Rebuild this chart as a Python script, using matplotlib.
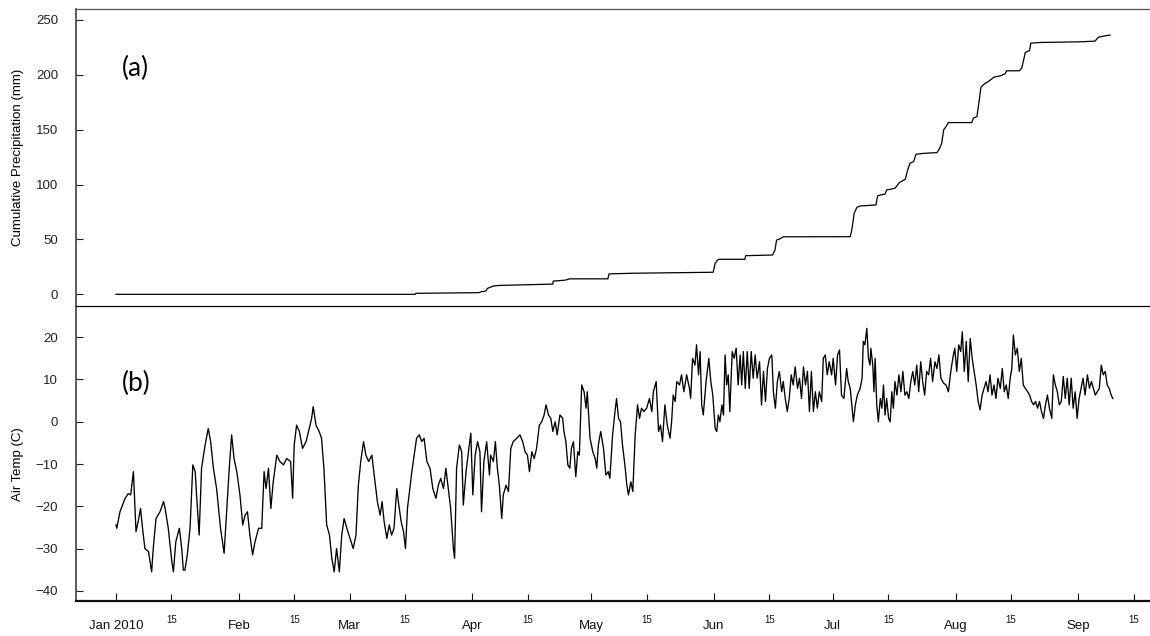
import numpy as np
import matplotlib
matplotlib.use('Agg')
import matplotlib.pyplot as plt

plt.rcParams['font.family'] = ['Liberation Sans', 'DejaVu Sans']

# ---------------- data (days since 2010-01-01) ----------------
precip_day = [0, 75.5, 75.7, 91.6, 92.3, 93.4, 93.8, 94.6, 95.1, 96.8, 103.6, 110.3, 110.4,
              113.4, 114.6, 124.2, 124.5, 130.6, 150.8, 151.3, 152.1, 158.8, 159.0, 165.8,
              166.4, 166.8, 167.7, 168.5, 185.4, 185.8, 186.4, 187.1, 187.9, 191.9, 192.3,
              193.0, 194.2, 194.6, 195.5, 196.7, 197.8, 199.3, 199.9, 200.5, 201.4, 202.0,
              204.1, 207.3, 208.0, 208.5, 209.0, 209.5, 210.2, 216.1, 216.5, 217.4, 218.0,
              218.4, 219.5, 220.3, 221.7, 223.3, 224.5, 224.9, 228.1, 228.7, 229.3, 229.6,
              230.7, 231.0, 233.4, 243.5, 247.2, 248.1, 249.8, 251.0]
precip_mm = [0, 0, 0.9, 1.5, 2.4, 3.0, 5.4, 6.5, 7.5, 8.1, 8.7, 9.3, 12.0,
             12.9, 14.1, 14.1, 18.6, 19.2, 20.1, 28.3, 31.9, 31.9, 35.2, 35.8,
             40.3, 49.4, 50.6, 52.4, 52.5, 58.6, 73.8, 79.3, 80.5, 81.4, 89.6,
             90.5, 91.4, 95.1, 95.7, 96.6, 101.8, 104.8, 113.3, 119.4, 120.9, 127.6,
             128.5, 129.1, 133.1, 137.6, 149.8, 152.3, 156.5, 156.5, 160.5, 162.0, 177.2,
             188.8, 192.4, 193.9, 197.9, 199.1, 200.9, 203.7, 203.7, 206.1, 215.2, 220.4,
             222.2, 228.9, 229.5, 230.1, 230.7, 234.3, 235.6, 236.2]

temp_day = [
    0.0, 0.2, 1.0, 2.3, 3.1, 3.7, 4.4, 5.05, 5.6, 6.2, 6.7, 7.3, 8.2, 9.0, 9.4, 10.1, 11.1, 12.0,
    12.4, 13.2, 14.1, 14.5, 15.1, 16.0, 16.6, 17.0, 17.4, 18.0, 18.7, 19.4, 20.0, 20.4, 21.0,
    21.6, 22.5, 23.3, 23.9, 24.6, 25.4, 26.4, 27.3, 28.0, 28.6, 29.2, 29.8, 30.5, 31.3, 32.0,
    32.6, 33.2, 33.8, 34.5, 35.1, 36.0, 36.8, 37.4, 37.9, 38.5, 39.1, 39.7, 40.6, 41.4, 42.3,
    43.1, 44.1, 44.6, 45.0, 45.6, 46.3, 47.1, 48.0, 48.8, 49.4, 49.8, 50.5, 51.3, 51.9, 52.5,
    53.2, 53.9, 54.5, 55.1, 55.7, 56.4, 57.0, 57.6, 58.3, 59.1, 59.9, 60.6, 61.2, 61.8, 62.5,
    63.1, 63.8, 64.6, 65.2, 66.0, 66.7, 67.2, 67.7, 68.4, 69.0, 69.6, 70.2, 70.9, 71.3, 72.0,
    72.6, 73.1, 73.6, 74.1, 74.7, 75.3, 75.9, 76.6, 77.2, 77.8, 78.5, 79.3, 80.0, 80.8, 81.4,
    82.0, 82.7, 83.3, 83.9, 84.5, 85.2, 85.5, 86.0, 86.7, 87.3, 87.7, 88.4, 89.0, 89.6, 90.1,
    90.7, 91.3, 91.9, 92.3, 92.9, 93.6, 94.3, 94.6, 95.3, 95.8, 96.3, 96.8, 97.4, 97.8, 98.5,
    99.1, 99.7, 100.3, 101.2, 102.0, 102.7, 103.3, 103.9, 104.4, 105.0, 105.6, 106.2, 106.9,
    107.5, 108.1, 108.6, 109.2, 109.8, 110.3, 110.9, 111.4, 112.1, 112.8, 113.1, 113.6, 114.1,
    114.6, 115.0, 115.5, 116.1, 116.6, 117.0, 117.6, 118.2, 118.7, 119.0, 119.7, 120.4, 121.0,
    121.4, 121.8, 122.4, 123.1, 123.7, 124.3, 124.7, 125.4, 126.0, 126.4, 126.9, 127.4, 127.9,
    128.5, 129.0, 129.4, 130.0, 130.5, 131.1, 131.7, 132.2, 132.7, 133.3, 134.0, 134.7, 135.3,
    135.7, 136.4, 137.0, 137.5, 138.0, 138.6, 139.2, 139.9, 140.3, 140.7, 141.2, 141.6, 142.3,
    142.8, 143.4, 144.1, 144.8, 145.1, 145.6, 146.2, 146.6, 147.1, 147.5, 147.9, 148.3, 149.0,
    149.7, 150.2, 150.7, 151.3, 151.7, 152.1, 152.5, 153.0, 153.4, 153.8, 154.2, 154.6, 155.0,
    155.6, 156.1, 156.6, 157.1, 157.6, 158.0, 158.4, 158.9, 159.4, 159.9, 160.4, 160.9, 161.4,
    161.9, 162.5, 163.0, 163.5, 164.0, 164.5, 165.0, 165.6, 166.0, 166.5, 167.0, 167.5, 168.1,
    168.5, 169.0, 169.5, 170.0, 170.5, 171.0, 171.5, 172.1, 172.6, 173.1, 173.6, 174.1, 174.6,
    175.1, 175.6, 176.1, 176.6, 177.1, 177.6, 178.2, 178.6, 179.1, 179.6, 180.1, 180.7, 181.1,
    181.7, 182.2, 182.7, 183.2, 183.8, 184.5, 184.9, 185.4, 185.8, 186.2, 186.7, 187.2, 187.9,
    188.4, 188.7, 189.1, 189.6, 190.0, 190.4, 190.6, 191.1, 191.4, 191.7, 192.1, 192.5, 193.0,
    193.4, 193.8, 194.2, 194.6, 195.1, 195.5, 195.9, 196.3, 196.7, 197.2, 197.7, 198.2, 198.7,
    199.2, 199.7, 200.2, 200.7, 201.2, 201.7, 202.2, 202.7, 203.2, 203.7, 204.2, 204.7, 205.2,
    205.7, 206.2, 206.8, 207.3, 207.8, 208.3, 209.0, 209.6, 210.2, 210.8, 211.3, 211.8, 212.3,
    212.8, 213.3, 213.7, 214.2, 214.7, 215.2, 215.7, 216.2, 216.7, 217.2, 217.7, 218.2, 218.7,
    219.2, 219.7, 220.2, 220.7, 221.2, 221.7, 222.2, 222.7, 223.3, 223.8, 224.3, 224.8, 225.3,
    225.8, 226.2, 226.6, 227.1, 227.6, 228.1, 228.6, 229.1, 229.6, 230.2, 230.7, 231.2, 231.7,
    232.2, 232.7, 233.2, 233.7, 234.2, 234.7, 235.2, 235.7, 236.3, 236.7, 237.2, 237.7, 238.2,
    238.7, 239.2, 239.7, 240.2, 240.7, 241.2, 241.7, 242.2, 242.7, 243.2, 243.7, 244.2, 244.7,
    245.3, 245.8, 246.3, 246.8, 247.3, 247.8, 248.3, 248.8, 249.3, 249.8, 250.3, 250.8, 251.3,
    251.7]
temp_c = [
    -24.4, -25.2, -21.3, -18.1, -17.0, -17.3, -11.8, -26.0, -23.6, -20.5, -25.2, -30.0, -30.7,
    -35.5, -30.0, -22.9, -21.3, -18.9, -20.5, -25.2, -33.1, -35.5, -28.4, -25.2, -30.0, -35.1,
    -35.1, -31.5, -25.2, -10.2, -11.8, -18.1, -26.8, -11.0, -5.5, -1.6, -4.7, -11.0, -15.8,
    -25.2, -31.1, -20.5, -11.0, -3.1, -8.7, -11.8, -17.3, -24.4, -22.1, -21.3, -26.8, -31.5,
    -28.4, -25.2, -25.2, -11.8, -15.8, -11.0, -20.5, -14.2, -7.9, -9.4, -10.2, -8.7, -9.4,
    -18.1, -5.5, -0.8, -2.3, -6.3, -4.7, -1.6, 0.8, 3.6, -0.8, -2.3, -3.9, -11.0, -24.4, -26.8,
    -32.3, -35.5, -30.0, -35.5, -26.8, -22.9, -25.2, -27.6, -30.0, -26.8, -15.0, -9.4, -4.7,
    -7.9, -9.4, -7.9, -12.6, -18.9, -22.1, -18.9, -23.6, -27.6, -24.4, -26.8, -25.2, -15.8,
    -18.9, -23.6, -26.0, -30.0, -20.5, -16.5, -11.8, -7.9, -3.9, -3.1, -4.7, -3.9, -9.4, -11.0,
    -15.8, -18.1, -15.0, -13.4, -15.8, -11.0, -15.8, -20.5, -30.0, -32.3, -11.0, -5.5, -7.1,
    -19.7, -11.8, -7.1, -2.7, -17.3, -7.9, -4.7, -7.1, -21.3, -9.4, -4.7, -12.6, -7.9, -9.4,
    -4.7, -11.0, -15.0, -22.9, -17.3, -15.0, -16.5, -6.3, -4.7, -3.9, -3.1, -4.7, -7.1, -7.9,
    -11.8, -7.1, -8.7, -6.3, -0.8, 0.0, 1.6, 4.0, 1.6, 0.8, -2.3, 0.0, -3.1, 1.6, 0.8, -2.3,
    -4.7, -10.2, -11.0, -6.3, -4.7, -13.0, -7.1, -7.9, 8.7, 7.1, 3.2, 7.1, -3.9, -7.1, -8.7,
    -11.0, -5.5, -2.3, -6.3, -12.6, -11.8, -13.4, -3.1, 2.4, 5.5, 0.8, 0.0, -5.5, -10.2, -15.0,
    -17.3, -14.2, -16.5, -3.1, 4.0, 0.8, 3.2, 2.4, 3.2, 5.5, 2.4, 7.1, 9.5, -2.3, -0.8, -4.7,
    4.0, -0.8, -3.9, 0.0, 6.3, 4.8, 9.5, 8.7, 11.1, 7.1, 11.1, 7.9, 5.5, 15.0, 13.4, 18.2, 11.1,
    16.6, 4.0, 1.6, 9.5, 15.0, 9.5, 6.3, -1.6, -2.3, 1.6, 0.0, 4.0, 1.6, 15.8, 8.7, 11.1, 2.4,
    16.6, 15.0, 17.4, 8.7, 15.8, 8.7, 16.6, 7.9, 16.6, 7.9, 16.6, 10.3, 15.8, 10.3, 14.2, 4.0,
    11.9, 4.8, 12.6, 15.0, 15.8, 7.1, 3.2, 9.5, 11.9, 7.1, 9.5, 5.5, 2.4, 5.5, 11.1, 8.7, 13.0,
    7.9, 10.3, 5.5, 13.0, 8.7, 11.9, 2.4, 11.9, 2.4, 7.1, 3.2, 7.1, 4.8, 15.0, 15.8, 11.1, 14.2,
    11.1, 15.0, 8.7, 15.8, 17.0, 6.3, 5.5, 12.6, 9.5, 7.9, 4.0, 0.0, 4.0, 6.3, 7.9, 10.3, 19.0,
    18.2, 22.1, 15.0, 13.4, 17.4, 13.4, 7.1, 15.0, 4.0, 0.0, 5.5, 3.2, 8.7, 1.6, 5.5, 0.8, 0.0,
    7.1, 3.2, 9.5, 6.3, 11.1, 7.1, 11.9, 6.3, 7.1, 5.5, 9.5, 11.9, 8.7, 13.4, 7.1, 14.2, 9.5,
    6.3, 11.9, 11.1, 15.0, 9.5, 14.2, 12.6, 15.8, 10.3, 9.1, 8.7, 7.1, 11.9, 15.0, 17.4, 11.9,
    18.2, 16.6, 21.3, 11.9, 19.0, 9.5, 19.7, 15.0, 11.9, 8.7, 4.8, 2.8, 6.3, 7.9, 9.5, 7.1,
    11.1, 6.3, 8.7, 5.5, 10.3, 7.9, 12.6, 7.1, 8.7, 5.5, 10.3, 12.6, 20.5, 15.8, 17.4, 11.9,
    15.0, 8.7, 7.9, 7.1, 6.3, 4.8, 4.0, 4.8, 3.2, 4.8, 2.4, 0.8, 4.0, 6.3, 3.2, 0.8, 11.1, 8.7,
    7.1, 4.0, 4.8, 10.7, 5.5, 10.3, 4.0, 10.3, 3.2, 7.1, 0.8, 5.5, 7.9, 10.3, 6.3, 11.1, 7.9,
    9.5, 7.9, 6.3, 7.1, 7.9, 13.4, 11.1, 11.9, 8.7, 7.9, 6.3, 5.5]

month_labels = ['Jan 2010', 'Feb', 'Mar', 'Apr', 'May', 'Jun', 'Jul', 'Aug', 'Sep']
month_starts = ['2010-01-01', '2010-02-01', '2010-03-01', '2010-04-01', '2010-05-01',
                '2010-06-01', '2010-07-01', '2010-08-01', '2010-09-01']
mid_months = ['2010-01-15', '2010-02-15', '2010-03-15', '2010-04-15', '2010-05-15',
              '2010-06-15', '2010-07-15', '2010-08-15', '2010-09-15']
mid_labels = ['15'] * 9
precip_ticks = [0, 50, 100, 150, 200, 250]
temp_ticks = [-40, -30, -20, -10, 0, 10, 20]

base = np.datetime64('2010-01-01T00:00')


def to_dates(days):
    return base + (np.asarray(days, dtype=float) * 1440).round().astype('timedelta64[m]')


# ---------------- figure ----------------
W, H = 1150, 636
fig = plt.figure(figsize=(W / 100, H / 100), dpi=100)
L = 76 / W
ax1 = fig.add_axes([L, 1 - 305.5 / H, 1 - L, (305.5 - 9) / H])
ax2 = fig.add_axes([L, 1 - 601 / H, 1 - L, (601 - 305.5) / H], sharex=ax1)

ax1.plot(to_dates(precip_day), precip_mm, color='black', lw=0.9)
ax2.plot(to_dates(temp_day), temp_c, color='black', lw=0.95)

ax1.set_ylim(-10.2, 260)
ax2.set_ylim(-42.4, 27.5)
ax2.set_xlim(base - np.timedelta64(int(10.1 * 1440), 'm'), base + np.timedelta64(int(261.1 * 1440), 'm'))

ax1.set_yticks(precip_ticks)
ax2.set_yticks(temp_ticks)
for ax in (ax1, ax2):
    ax.tick_params(axis='y', direction='in', length=5, width=0.8, pad=13, labelsize=9.5,
                   colors='#222222')
    ax.spines['right'].set_visible(False)
    ax.spines['left'].set_color('#404040')
    ax.spines['left'].set_linewidth(1.2)
    ax.set_facecolor('none')

ax1.spines['top'].set_color('#505050')
ax1.spines['top'].set_linewidth(0.9)
ax1.spines['bottom'].set_color('black')
ax1.spines['bottom'].set_linewidth(0.9)
ax2.spines['top'].set_visible(False)
ax2.spines['bottom'].set_color('#111111')
ax2.spines['bottom'].set_linewidth(1.6)

ax2.set_xticks(np.array(month_starts, dtype='datetime64[m]'))
ax2.set_xticklabels(month_labels)
ax2.set_xticks(np.array(mid_months, dtype='datetime64[m]'), minor=True)
ax2.set_xticklabels(mid_labels, minor=True)
ax2.tick_params(axis='x', which='major', direction='in', length=6, width=0.8, pad=14,
                labelsize=9.5, colors='#111111')
ax2.tick_params(axis='x', which='minor', direction='in', length=5, width=0.8, pad=10,
                labelsize=7, colors='#111111')
ax1.tick_params(axis='x', which='both', length=0, labelbottom=False)

ax1.set_ylabel('Cumulative Precipitation (mm)', fontsize=9.5)
ax2.set_ylabel('Air Temp (C)', fontsize=9.5)
ax1.yaxis.set_label_coords((24 - 76) / (W - 76), 0.5)
ax2.yaxis.set_label_coords((24 - 76) / (W - 76), 0.464)

ax1.text((122 - 76) / (W - 76), (305.5 - 68) / 296.5, '(a)', transform=ax1.transAxes,
         fontsize=19, family=['Lato', 'DejaVu Sans'], ha='left', va='center')
ax2.text((122 - 76) / (W - 76), (601 - 383) / 295.5, '(b)', transform=ax2.transAxes,
         fontsize=19, family=['Lato', 'DejaVu Sans'], ha='left', va='center')

fig.savefig('out.png', dpi=100)
